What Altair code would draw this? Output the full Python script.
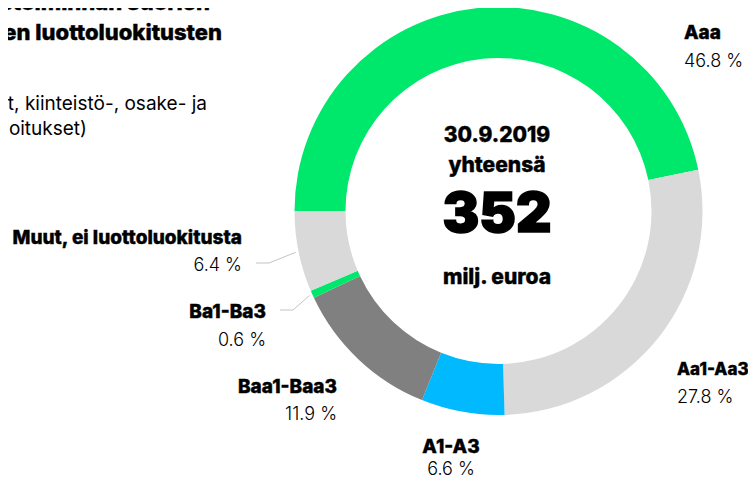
import math
import altair as alt
import pandas as pd

# ---------------- data ----------------
categories = ["Aaa", "Aa1-Aa3", "A1-A3", "Baa1-Baa3", "Ba1-Ba3", "Muut, ei luottoluokitusta"]
shares = [46.8, 27.8, 6.6, 11.9, 0.6, 6.4]
pct_labels = ["46.8 %", "27.8 %", "6.6 %", "11.9 %", "0.6 %", "6.4 %"]
colors = ["#00E86B", "#D9D9D9", "#00B9FF", "#808080", "#00E86B", "#D9D9D9"]
center_lines = ["30.9.2019", "yhteensä", "352", "milj. euroa"]
title_lines = ["Sijoitustoiminnan suorien", "korkosijoitusten luottoluokitusten"]
subtitle_lines = ["(pl. rahastot, kiinteistö-, osake- ja", "pääomasijoitukset)"]
leader_for = ["Ba1-Ba3", "Muut, ei luottoluokitusta"]

# ---------------- layout (view pixel coords; page = view + 8) ----------------
OFF = 8
W, H = 756 - 2 * OFF, 486 - 2 * OFF
CX, CY = 498.5 - OFF, 211 - OFF
R_OUT, R_IN = 204, 153
FONT = "Inter"

# label anchor: (x, name baseline, pct baseline, align, name font size)
label_pos = {
    "Aaa": (684, 39, 67, "left", 19),
    "Aa1-Aa3": (677, 375, 403, "left", 17),
    "A1-A3": (451, 453, 475, "center", 19),
    "Baa1-Baa3": (337, 393, 420, "right", 19),
    "Ba1-Ba3": (266, 318, 346, "right", 19),
    "Muut, ei luottoluokitusta": (242, 244, 271, "right", 19),
}
# which line the leader points to: 0 = name, 1 = pct
leader_row = {"Ba1-Ba3": 0, "Muut, ei luottoluokitusta": 1}

df = pd.DataFrame({"category": categories, "share": shares, "idx": list(range(len(categories)))})

arcs = alt.Chart(df).mark_arc(outerRadius=R_OUT, innerRadius=R_IN).encode(
    theta=alt.Theta("share:Q", stack=True,
                    scale=alt.Scale(range=[-math.pi / 2, 3 * math.pi / 2])),
    color=alt.Color("category:N", scale=alt.Scale(domain=categories, range=colors), legend=None),
    order=alt.Order("idx:Q"),
    x=alt.value(CX),
    y=alt.value(CY),
)

# leader lines derived from slice mid-angles
total = sum(shares)
rows = []
cum = 0.0
for cat, v in zip(categories, shares):
    mid = cum + v / 2
    cum += v
    if cat not in leader_for:
        continue
    a = math.radians(-90 + 360 * mid / total)
    r = R_OUT + 3
    x0 = CX + r * math.sin(a)
    y0 = CY - r * math.cos(a)
    lx, nb, pb, _, _ = label_pos[cat]
    ly = (nb if leader_row[cat] == 0 else pb) - 8 - OFF
    rows += [
        {"g": cat, "k": 0, "px": x0, "py": y0},
        {"g": cat, "k": 1, "px": lx + 27 - OFF, "py": ly},
        {"g": cat, "k": 2, "px": lx + 14 - OFF, "py": ly},
    ]
leaders = alt.Chart(pd.DataFrame(rows)).mark_line(color="#C4C4C4", strokeWidth=1).encode(
    x=alt.X("px:Q", scale=None, axis=None),
    y=alt.Y("py:Q", scale=None, axis=None),
    detail="g:N",
    order="k:Q",
)

# slice labels
lab_rows = []
for cat, p in zip(categories, pct_labels):
    x, nb, pb, al, fs = label_pos[cat]
    lab_rows.append({"t": cat, "x": x - OFF, "y": nb - OFF, "al": al, "kind": "name", "fs": fs})
    lab_rows.append({"t": p, "x": x - OFF, "y": pb - OFF, "al": al, "kind": "pct", "fs": 18})
lab_df = pd.DataFrame(lab_rows)

def text_layer(sub, align, weight, sw):
    d = lab_df[(lab_df["al"] == align) & (lab_df["kind"] == sub)]
    kw = dict(align=align, baseline="alphabetic", font=FONT,
              fontWeight=weight, color="#000000")
    if sw > 0:
        kw.update(stroke="#000000", strokeWidth=sw)
    return alt.Chart(d).mark_text(**kw).encode(
        x=alt.X("x:Q", scale=None, axis=None),
        y=alt.Y("y:Q", scale=None, axis=None),
        size=alt.Size("fs:Q", scale=None, legend=None),
        text="t:N",
    )

label_layers = []
for al in ["left", "center", "right"]:
    label_layers.append(text_layer("name", al, 800, 0.4))
    label_layers.append(text_layer("pct", al, 300, 0))

# centre text
c_df = pd.DataFrame({
    "t": center_lines,
    "y": [142 - OFF, 172 - OFF, 232 - OFF, 284 - OFF],
    "w": ["s", "s", "b", "s"],
})
center_small = alt.Chart(c_df[c_df["w"] == "s"]).mark_text(
    align="center", baseline="alphabetic", font=FONT, fontWeight=800, fontSize=21,
    color="#000000", stroke="#000000", strokeWidth=0.4
).encode(x=alt.value(497 - OFF), y=alt.Y("y:Q", scale=None, axis=None), text="t:N")
center_big = alt.Chart(c_df[c_df["w"] == "b"]).mark_text(
    align="center", baseline="alphabetic", font=FONT, fontWeight=900, fontSize=55,
    color="#000000", stroke="#000000", strokeWidth=1.6
).encode(x=alt.value(497 - OFF), y=alt.Y("y:Q", scale=None, axis=None), text="t:N")

# title block (cut by the left edge)
t_df = pd.DataFrame({"t": title_lines, "x": [210 - OFF, 222 - OFF], "y": [10 - OFF, 40 - OFF]})
s_df = pd.DataFrame({"t": subtitle_lines, "x": [207 - OFF, 87 - OFF], "y": [110 - OFF, 135 - OFF]})
title_l = alt.Chart(t_df).mark_text(align="right", baseline="alphabetic", font=FONT,
                                    fontWeight=800, fontSize=22, color="#000000",
                                    stroke="#000000", strokeWidth=0.4).encode(
    x=alt.X("x:Q", scale=None, axis=None), y=alt.Y("y:Q", scale=None, axis=None), text="t:N")
sub_l = alt.Chart(s_df).mark_text(align="right", baseline="alphabetic", font=FONT,
                                  fontWeight=400, fontSize=19, color="#000000").encode(
    x=alt.X("x:Q", scale=None, axis=None), y=alt.Y("y:Q", scale=None, axis=None), text="t:N")

chart = alt.layer(arcs, leaders, *label_layers, center_small, center_big, title_l, sub_l).properties(
    width=W, height=H, padding=0, autosize=alt.AutoSizeParams(type="none"), background="white"
).configure_view(stroke=None)

chart.save("out.html", embed_options={"renderer": "svg", "actions": False})
